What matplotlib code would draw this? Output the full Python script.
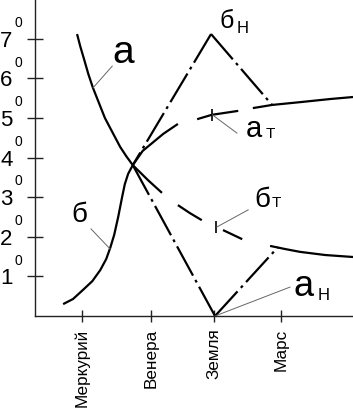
import matplotlib
matplotlib.use("Agg")
import matplotlib.pyplot as plt

plt.rcParams['font.family'] = ['Liberation Sans', 'DejaVu Sans']

# ---- data (x: planet position units, y: degrees) ----
planet_names = ["Меркурий", "Венера", "Земля", "Марс"]
planet_pos = [1, 2.05, 3, 4]
y_levels = [1, 2, 3, 4, 5, 6, 7]

# curve "а" (solid, descending to the crossing point)
a_x = [0.93, 0.98, 1.04, 1.10, 1.17, 1.26, 1.35, 1.46, 1.58, 1.67, 1.77]
a_y = [7.12, 6.80, 6.46, 6.11, 5.76, 5.38, 5.00, 4.65, 4.27, 4.04, 3.81]

# curve "б" (solid, rising to the crossing point)
b_x = [0.72, 0.87, 1.02, 1.16, 1.28, 1.37, 1.43, 1.49, 1.55, 1.61, 1.65, 1.70, 1.77]
b_y = [0.30, 0.43, 0.66, 0.88, 1.16, 1.44, 1.72, 2.05, 2.50, 3.01, 3.33, 3.59, 3.81]

# continuation "а_т" (rising) - pieces: solid, dashed, solid
at_seg1_x = [1.77, 1.92, 2.23, 2.45]
at_seg1_y = [3.81, 4.17, 4.60, 4.85]
at_seg2_x = [2.74, 2.96, 3.36]
at_seg2_y = [4.97, 5.08, 5.18]
at_seg3_x = [3.58, 3.87, 4.29, 4.75, 5.09]
at_seg3_y = [5.25, 5.33, 5.40, 5.48, 5.53]
at_break = (2.97, 5.08)

# continuation "б_т" (falling) - pieces: dash, dash, dash, solid
bt_seg1_x = [1.77, 2.00, 2.21]
bt_seg1_y = [3.81, 3.43, 3.11]
bt_seg2_x = [2.45, 2.63, 2.81]
bt_seg2_y = [2.80, 2.60, 2.42]
bt_seg3_x = [3.13, 3.42]
bt_seg3_y = [2.17, 1.94]
bt_seg4_x = [3.84, 4.07, 4.29, 4.67, 5.09]
bt_seg4_y = [1.77, 1.69, 1.62, 1.54, 1.49]
bt_break = (3.02, 2.25)

# dash-dot broken lines
bn_x = [1.77, 2.95, 3.87]
bn_y = [3.81, 7.12, 5.33]
an_x = [1.77, 3.01, 3.96]
an_y = [3.81, 0.00, 1.74]

# ---- figure ----
W, H = 353, 412
fig = plt.figure(figsize=(W / 100, H / 100), dpi=100)
ax = fig.add_axes([35 / W, 96 / H, 318 / W, 316 / H])
ax.set_xlim(0.296, 5.09)
ax.set_ylim(0, 7.98)

for s in ['top', 'right']:
    ax.spines[s].set_visible(False)
for s in ['left', 'bottom']:
    ax.spines[s].set_linewidth(1.0)
    ax.spines[s].set_color('#222222')

lw = 1.6
solid = dict(color='black', lw=lw, solid_capstyle='butt')
ax.plot(a_x, a_y, **solid)
ax.plot(b_x, b_y, **solid)
ax.plot(at_seg1_x, at_seg1_y, **solid)
ax.plot(at_seg2_x, at_seg2_y, **solid)
ax.plot(at_seg3_x, at_seg3_y, **solid)
ax.plot(bt_seg1_x, bt_seg1_y, **solid)
ax.plot(bt_seg2_x, bt_seg2_y, **solid)
ax.plot(bt_seg3_x, bt_seg3_y, **solid)
ax.plot(bt_seg4_x, bt_seg4_y, **solid)

# break marks
for bx, by in [at_break, bt_break]:
    ax.plot([bx], [by], marker='|', ms=9, mew=1.2, color='black')

# dash-dot lines, each leg drawn from its vertex
dd = dict(color='black', lw=lw, linestyle=(0, (15, 2.2, 1.3, 2.2)),
          dash_capstyle='butt')
for xs, ys in [(bn_x, bn_y), (an_x, an_y)]:
    ax.plot(xs[1::-1], ys[1::-1], **dd)
    ax.plot(xs[1:], ys[1:], **dd)

# pointer lines
ptr = dict(color='#666666', lw=0.7)
ax.plot([1.17, 1.46], [5.76, 6.31], **ptr)
ax.plot([1.43, 1.14], [1.69, 2.20], **ptr)
ax.plot([2.97, 3.34], [5.08, 4.62], **ptr)
ax.plot([3.04, 3.51], [2.25, 2.68], **ptr)
ax.plot([3.01, 4.14], [0.00, 0.73], **ptr)

# curve labels
ax.text(1.63, 6.39, "а", fontsize=28, ha='center', va='baseline')
ax.text(0.97, 2.37, "б", fontsize=20, ha='center', va='baseline')
ax.text(3.18, 7.27, "б", fontsize=18, ha='center', va='baseline')
ax.text(3.34, 7.15, "Н", fontsize=12, ha='left', va='baseline')
ax.text(3.60, 4.52, "а", fontsize=21, ha='center', va='baseline')
ax.text(3.78, 4.49, "Т", fontsize=11, ha='left', va='baseline')
ax.text(3.73, 2.75, "б", fontsize=20, ha='center', va='baseline')
ax.text(3.87, 2.75, "Т", fontsize=11, ha='left', va='baseline')
ax.text(4.35, 0.505, "а", fontsize=26, ha='center', va='baseline')
ax.text(4.55, 0.40, "Н", fontsize=12, ha='left', va='baseline')

# x ticks
ax.set_xticks(planet_pos)
ax.set_xticklabels(planet_names, rotation=90, fontsize=12.3)
ax.tick_params(axis='x', direction='inout', length=8, width=1, pad=5,
               color='#222222')

# y ticks with superscript zero
ax.set_yticks(y_levels)
ax.set_yticklabels([])
ax.tick_params(axis='y', direction='inout', length=11, width=1,
               color='#222222')
ytr = ax.get_yaxis_transform()
for v in y_levels:
    ax.text(-0.071, v - 0.20, str(v), transform=ytr, fontsize=16,
            ha='right', va='baseline', clip_on=False)
    ax.text(-0.066, v + 0.30, "0", transform=ytr, fontsize=10,
            ha='left', va='baseline', clip_on=False)

fig.savefig("out.png", dpi=100)
